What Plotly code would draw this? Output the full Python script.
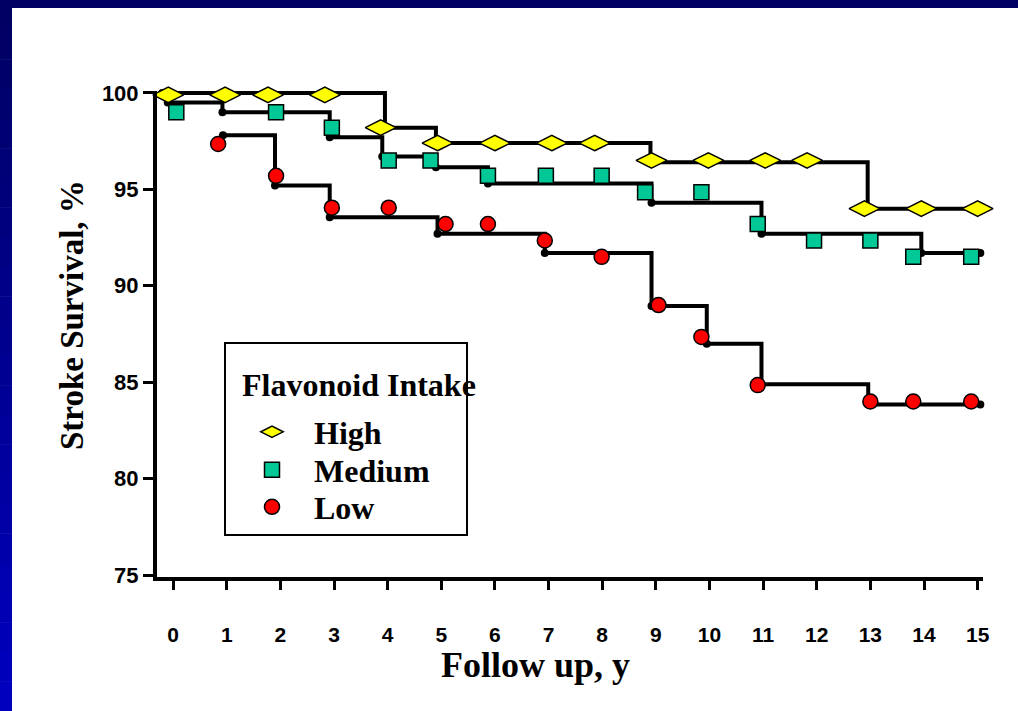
import plotly.graph_objects as go

# ---------------- data ----------------
year_ticks = list(range(0, 16))
surv_ticks = [75, 80, 85, 90, 95, 100]

# Kaplan-Meier step curves (start of each level)
high_step_x = [-0.2, 3.95, 4.9, 8.9, 12.95, 15.05]
high_step_y = [100.0, 98.2, 97.4, 96.4, 94.0, 94.0]

med_step_x = [-0.1, 0.92, 2.92, 3.9, 4.9, 5.87, 8.92, 10.97, 13.95, 15.05]
med_step_y = [99.5, 99.0, 97.7, 96.7, 96.15, 95.3, 94.3, 92.7, 91.7, 91.7]

low_step_x = [0.93, 1.9, 2.92, 4.93, 6.93, 8.92, 9.95, 10.97, 12.96, 15.05]
low_step_y = [97.8, 95.2, 93.55, 92.7, 91.7, 88.95, 87.0, 84.9, 83.85, 83.85]

# overlaid symbols
high_x = [-0.09, 0.97, 1.77, 2.83, 3.87, 4.93, 6.0, 7.06, 7.86, 8.92, 9.98, 11.04, 11.82, 12.89, 13.95, 15.0]
high_y = [99.9, 99.9, 99.9, 99.9, 98.2, 97.4, 97.4, 97.4, 97.4, 96.5, 96.5, 96.5, 96.5, 94.0, 94.0, 94.0]

med_x = [0.06, 1.92, 2.96, 4.02, 4.8, 5.87, 6.95, 7.99, 8.8, 9.85, 10.9, 11.95, 13.0, 13.8, 14.88]
med_y = [99.0, 99.0, 98.2, 96.5, 96.5, 95.7, 95.7, 95.7, 94.85, 94.85, 93.2, 92.35, 92.35, 91.5, 91.5]

low_x = [0.84, 1.92, 2.96, 4.02, 5.08, 5.87, 6.93, 7.99, 9.05, 9.85, 10.9, 13.0, 13.8, 14.88]
low_y = [97.35, 95.7, 94.05, 94.05, 93.2, 93.2, 92.35, 91.5, 89.0, 87.35, 84.85, 84.0, 84.0, 84.0]

series_names = ["High", "Medium", "Low"]
legend_title = "Flavonoid Intake"

# ---------------- layout geometry ----------------
W, H = 1018, 711
ML, MR, MT, MB = 157, 35, 91, 134
PW, PH = W - ML - MR, H - MT - MB


def px_x(p):
    return (p - ML) / PW


def px_y(p):
    return (H - MB - p) / PH


serif = "Liberation Serif, Times New Roman, serif"
tickfam = "Liberation Sans Narrow, Arial Narrow, Liberation Sans, Arial, sans-serif"

fig = go.Figure()

for sx, sy in [(high_step_x, high_step_y), (med_step_x, med_step_y), (low_step_x, low_step_y)]:
    fig.add_trace(go.Scatter(
        x=sx, y=sy, mode="lines+markers", line=dict(shape="hv", color="black", width=4),
        marker=dict(color="black", size=8), showlegend=False, hoverinfo="skip", cliponaxis=False))

fig.add_trace(go.Scatter(
    x=high_x, y=high_y, mode="markers", name=series_names[0], cliponaxis=False, legend="legend",
    marker=dict(symbol="diamond-wide", size=22, color="#FFFF00", line=dict(color="black", width=1.5))))
fig.add_trace(go.Scatter(
    x=med_x, y=med_y, mode="markers", name=series_names[1], cliponaxis=False, legend="legend2",
    marker=dict(symbol="square", size=15, color="#00C896", line=dict(color="black", width=1.5))))
fig.add_trace(go.Scatter(
    x=low_x, y=low_y, mode="markers", name=series_names[2], cliponaxis=False, legend="legend3",
    marker=dict(symbol="circle", size=15, color="#FF0000", line=dict(color="black", width=1.5))))

shapes = []
# slide border: top strip
shapes.append(dict(type="rect", xref="paper", yref="paper", x0=px_x(0), x1=px_x(W), y0=px_y(8), y1=px_y(0),
                   fillcolor="#000064", line=dict(width=0), layer="below"))
# left strip with vertical gradient
nseg = 24
for i in range(nseg):
    t = i / (nseg - 1)
    b = int(100 + (190 - 100) * t)
    y0p = i * H / nseg
    y1p = (i + 1) * H / nseg
    shapes.append(dict(type="rect", xref="paper", yref="paper", x0=px_x(0), x1=px_x(12),
                       y0=px_y(y1p + 0.5), y1=px_y(y0p), fillcolor=f"rgb(0,0,{b})",
                       line=dict(width=0), layer="below"))
# legend frame
shapes.append(dict(type="rect", xref="paper", yref="paper", x0=px_x(225), x1=px_x(467),
                   y0=px_y(535), y1=px_y(343), fillcolor="white", line=dict(color="black", width=2),
                   layer="above"))


def leg(ycenter):
    return dict(
        x=px_x(230), y=px_y(ycenter), xanchor="left", yanchor="middle",
        bgcolor="rgba(0,0,0,0)", borderwidth=0,
        font=dict(family=serif, size=32, color="black", weight="bold"),
        itemsizing="trace", itemwidth=74, indentation=0,
    )


fig.update_layout(
    width=W, height=H, autosize=False,
    margin=dict(l=ML, r=MR, t=MT, b=MB, pad=0),
    paper_bgcolor="white", plot_bgcolor="white",
    shapes=shapes,
    showlegend=True,
    legend=leg(432), legend2=leg(470), legend3=leg(507),
    xaxis=dict(
        range=[-0.3, 15.1], tickmode="array", tickvals=year_ticks, ticktext=[str(v) for v in year_ticks],
        showgrid=False, zeroline=False, showline=True, linecolor="black", linewidth=4,
        ticks="outside", ticklen=9, tickwidth=3, tickcolor="black",
        tickfont=dict(family=tickfam, size=21, color="black", weight="bold"),
        ticklabelstandoff=27,
    ),
    yaxis=dict(
        range=[74.9, 100.1], tickmode="array", tickvals=surv_ticks, ticktext=[str(v) for v in surv_ticks],
        showgrid=False, zeroline=False, showline=True, linecolor="black", linewidth=4,
        ticks="outside", ticklen=10, tickwidth=3, tickcolor="black",
        tickfont=dict(family=tickfam, size=22, color="black", weight="bold"),
    ),
    annotations=[
        dict(text="Stroke Survival, %", xref="paper", yref="paper", x=px_x(72), y=px_y(315),
             textangle=-90, showarrow=False, xanchor="center", yanchor="middle",
             font=dict(family=serif, size=33, color="black", weight="bold")),
        dict(text="Follow up, y", xref="paper", yref="paper", x=px_x(535), y=px_y(665),
             showarrow=False, xanchor="center", yanchor="middle",
             font=dict(family=serif, size=36, color="black", weight="bold")),
        dict(text=legend_title, xref="paper", yref="paper", x=px_x(240), y=px_y(385),
             showarrow=False, xanchor="left", yanchor="middle",
             font=dict(family=serif, size=32, color="black", weight="bold")),
    ],
)

fig.write_html("out.html", config={"displayModeBar": False},
               post_script="document.body.style.margin='0px';")
